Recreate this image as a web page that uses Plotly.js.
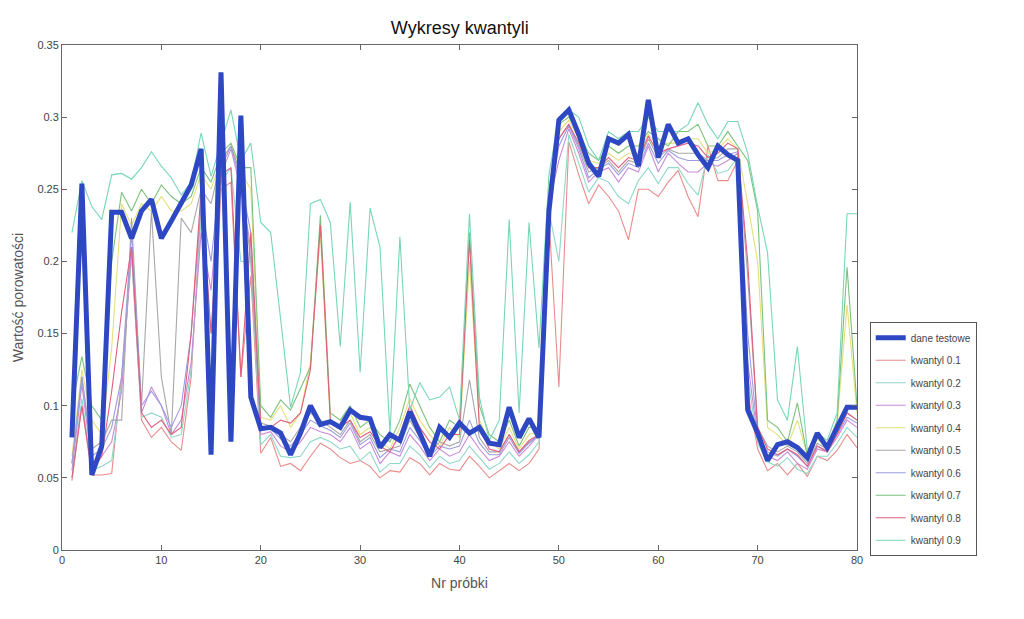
<!DOCTYPE html>
<html>
<head>
<meta charset="utf-8">
<script src="https://cdn.plot.ly/plotly-3.0.1.min.js"></script>
<style>
html,body{margin:0;padding:0;background:#fff;}
#chart{width:1024px;height:619px;}
</style>
</head>
<body>
<div id="chart"></div>
<script>
const sampleNr = Array.from({length: 80}, (_, i) => i + 1);

const daneTestowe = [
0.078,0.254,0.052,0.072,0.234,0.234,0.216,0.235,0.243,0.216,
0.228,0.240,0.253,0.278,0.066,0.331,0.075,0.301,0.106,0.084,
0.085,0.081,0.066,0.081,0.100,0.087,0.089,0.085,0.097,0.092,
0.091,0.071,0.080,0.076,0.096,0.081,0.065,0.085,0.078,0.088,
0.081,0.085,0.074,0.073,0.099,0.078,0.091,0.078,0.235,0.298,
0.305,0.288,0.268,0.259,0.285,0.282,0.288,0.266,0.312,0.272,
0.295,0.282,0.285,0.274,0.265,0.280,0.274,0.270,0.097,0.081,
0.062,0.073,0.075,0.071,0.064,0.081,0.071,0.085,0.099,0.099];

const kw01 = [
0.048,0.100,0.052,0.052,0.053,0.120,0.205,0.090,0.078,0.085,
0.075,0.069,0.120,0.240,0.110,0.250,0.255,0.120,0.190,0.067,
0.078,0.058,0.060,0.055,0.065,0.074,0.070,0.064,0.060,0.062,
0.058,0.050,0.055,0.054,0.064,0.060,0.052,0.060,0.056,0.055,
0.065,0.058,0.050,0.055,0.060,0.055,0.060,0.070,0.230,0.113,
0.283,0.260,0.240,0.253,0.245,0.235,0.215,0.250,0.250,0.245,
0.255,0.263,0.245,0.231,0.280,0.256,0.256,0.270,0.110,0.070,
0.055,0.060,0.052,0.060,0.051,0.065,0.062,0.069,0.080,0.071];

const kw02 = [
0.050,0.105,0.055,0.058,0.062,0.115,0.205,0.092,0.095,0.092,
0.078,0.080,0.125,0.230,0.150,0.255,0.265,0.200,0.200,0.073,
0.080,0.065,0.064,0.065,0.075,0.078,0.075,0.070,0.072,0.062,
0.068,0.054,0.060,0.060,0.072,0.066,0.057,0.065,0.060,0.062,
0.072,0.064,0.056,0.060,0.068,0.060,0.066,0.075,0.235,0.200,
0.288,0.268,0.248,0.258,0.255,0.245,0.240,0.256,0.265,0.254,
0.265,0.265,0.254,0.246,0.274,0.261,0.263,0.272,0.120,0.074,
0.061,0.058,0.064,0.056,0.053,0.065,0.065,0.074,0.085,0.078];

const kw03 = [
0.055,0.115,0.060,0.065,0.075,0.110,0.210,0.095,0.113,0.100,
0.080,0.090,0.130,0.220,0.180,0.260,0.278,0.250,0.210,0.080,
0.082,0.072,0.068,0.075,0.085,0.082,0.080,0.075,0.085,0.070,
0.075,0.060,0.068,0.065,0.080,0.072,0.062,0.070,0.065,0.068,
0.080,0.070,0.062,0.065,0.075,0.065,0.072,0.080,0.240,0.270,
0.292,0.275,0.255,0.262,0.265,0.255,0.265,0.262,0.280,0.262,
0.275,0.268,0.262,0.262,0.268,0.266,0.270,0.275,0.130,0.078,
0.065,0.062,0.068,0.060,0.056,0.070,0.068,0.078,0.090,0.085];

const kw04 = [
0.065,0.125,0.090,0.080,0.140,0.240,0.225,0.240,0.235,0.245,
0.235,0.235,0.240,0.260,0.250,0.270,0.280,0.262,0.250,0.092,
0.090,0.100,0.085,0.095,0.130,0.220,0.090,0.085,0.095,0.080,
0.085,0.075,0.070,0.085,0.105,0.090,0.080,0.072,0.085,0.078,
0.200,0.090,0.075,0.070,0.085,0.070,0.080,0.082,0.245,0.290,
0.298,0.285,0.270,0.268,0.275,0.270,0.275,0.275,0.288,0.280,
0.282,0.282,0.285,0.285,0.275,0.278,0.285,0.278,0.240,0.200,
0.085,0.080,0.072,0.090,0.066,0.077,0.070,0.088,0.170,0.095];

const kw05 = [
0.060,0.120,0.070,0.075,0.090,0.090,0.230,0.100,0.235,0.120,
0.080,0.230,0.220,0.250,0.240,0.270,0.280,0.260,0.200,0.088,
0.086,0.080,0.075,0.085,0.095,0.090,0.085,0.080,0.090,0.075,
0.080,0.068,0.070,0.072,0.090,0.078,0.068,0.075,0.072,0.075,
0.118,0.078,0.068,0.068,0.080,0.068,0.075,0.080,0.240,0.285,
0.295,0.280,0.262,0.265,0.270,0.262,0.270,0.268,0.285,0.272,
0.278,0.275,0.275,0.275,0.270,0.272,0.278,0.278,0.190,0.085,
0.072,0.068,0.072,0.068,0.060,0.074,0.070,0.082,0.095,0.090];

const kw06 = [
0.060,0.120,0.065,0.070,0.085,0.120,0.220,0.100,0.110,0.100,
0.085,0.100,0.150,0.240,0.200,0.265,0.280,0.255,0.220,0.085,
0.084,0.077,0.072,0.080,0.090,0.086,0.083,0.078,0.088,0.073,
0.078,0.064,0.070,0.068,0.085,0.076,0.065,0.072,0.070,0.072,
0.090,0.074,0.066,0.066,0.078,0.067,0.074,0.080,0.240,0.280,
0.294,0.278,0.258,0.264,0.268,0.260,0.268,0.265,0.282,0.268,
0.277,0.272,0.270,0.270,0.270,0.270,0.274,0.276,0.150,0.080,
0.068,0.065,0.070,0.065,0.058,0.072,0.069,0.080,0.092,0.088];

const kw07 = [
0.100,0.134,0.100,0.090,0.200,0.248,0.235,0.250,0.240,0.253,
0.245,0.240,0.245,0.265,0.255,0.275,0.282,0.265,0.265,0.100,
0.092,0.104,0.097,0.112,0.127,0.232,0.095,0.090,0.100,0.085,
0.090,0.080,0.075,0.090,0.115,0.100,0.085,0.075,0.090,0.085,
0.220,0.100,0.080,0.075,0.090,0.072,0.085,0.085,0.250,0.295,
0.300,0.290,0.275,0.270,0.280,0.275,0.280,0.280,0.290,0.285,
0.280,0.290,0.290,0.295,0.280,0.280,0.290,0.280,0.270,0.235,
0.090,0.085,0.075,0.102,0.065,0.080,0.072,0.090,0.196,0.100];

const kw08 = [
0.050,0.100,0.055,0.065,0.110,0.165,0.210,0.095,0.085,0.090,
0.080,0.085,0.150,0.250,0.150,0.260,0.265,0.120,0.220,0.085,
0.085,0.090,0.088,0.095,0.125,0.225,0.090,0.085,0.090,0.078,
0.082,0.072,0.068,0.080,0.100,0.085,0.075,0.070,0.080,0.080,
0.215,0.085,0.070,0.068,0.080,0.068,0.076,0.080,0.235,0.285,
0.295,0.282,0.265,0.265,0.272,0.265,0.272,0.270,0.287,0.275,
0.278,0.280,0.282,0.280,0.272,0.275,0.282,0.278,0.200,0.085,
0.070,0.066,0.070,0.066,0.058,0.072,0.068,0.080,0.095,0.090];

const kw09 = [
0.220,0.256,0.238,0.229,0.260,0.261,0.257,0.265,0.276,0.266,
0.258,0.246,0.255,0.289,0.259,0.282,0.305,0.270,0.282,0.227,
0.220,0.160,0.099,0.123,0.240,0.243,0.227,0.141,0.241,0.123,
0.237,0.210,0.081,0.217,0.097,0.116,0.104,0.106,0.113,0.090,
0.233,0.106,0.076,0.090,0.229,0.095,0.227,0.140,0.260,0.300,
0.305,0.300,0.280,0.270,0.290,0.285,0.290,0.290,0.300,0.290,
0.290,0.290,0.295,0.310,0.295,0.285,0.297,0.297,0.275,0.238,
0.206,0.104,0.090,0.141,0.069,0.081,0.076,0.095,0.233,0.233];

const seriesNames = ['kwantyl 0.1','kwantyl 0.2','kwantyl 0.3','kwantyl 0.4','kwantyl 0.5',
                     'kwantyl 0.6','kwantyl 0.7','kwantyl 0.8','kwantyl 0.9'];
const seriesValues = [kw01,kw02,kw03,kw04,kw05,kw06,kw07,kw08,kw09];
const seriesColors = ['#ea8c8c','#90d8c8','#c98ad8','#e4e07a','#a8a8a8',
                      '#9c9ce0','#7cc27c','#e0607e','#78d6b6'];

const traces = [];
seriesValues.forEach((vals, i) => {
  traces.push({
    x: sampleNr, y: vals, type: 'scatter', mode: 'lines',
    name: seriesNames[i], legendgroup: 'g' + i, legendrank: i + 2,
    line: {color: seriesColors[i], width: 1.1}
  });
});
traces.push({
  x: sampleNr, y: daneTestowe, type: 'scatter', mode: 'lines',
  name: 'dane testowe', legendgroup: 'gd', legendrank: 1,
  line: {color: '#2d48c2', width: 5}
});

const axisFont = {family: 'Liberation Sans, Arial, sans-serif', size: 11, color: '#444'};

const layout = {
  width: 1024, height: 619,
  paper_bgcolor: '#fff', plot_bgcolor: '#fff',
  margin: {l: 62, r: 167, t: 45, b: 69},
  title: {text: 'Wykresy kwantyli', x: 0.449, xanchor: 'center', y: 0.965,
          font: {family: 'Liberation Sans, Arial, sans-serif', size: 18, color: '#111', weight: 500}},
  xaxis: {range: [0, 80], dtick: 10, tick0: 0, showgrid: false, zeroline: false,
          showline: true, mirror: 'ticks', linecolor: '#666', linewidth: 1,
          ticks: 'inside', ticklen: 5, tickcolor: '#666', tickfont: axisFont,
          title: {text: 'Nr próbki', standoff: 12,
                  font: {family: 'Liberation Sans, Arial, sans-serif', size: 14, color: '#555'}}},
  yaxis: {range: [0, 0.35], dtick: 0.05, tick0: 0, showgrid: false, zeroline: false,
          showline: true, mirror: 'ticks', linecolor: '#666', linewidth: 1,
          ticks: 'inside', ticklen: 5, tickcolor: '#666', tickfont: axisFont,
          title: {text: 'Wartość porowatości', standoff: 10,
                  font: {family: 'Liberation Sans, Arial, sans-serif', size: 14, color: '#555'}}},
  legend: {x: 1.016, xanchor: 'left', y: 0.451, yanchor: 'top',
           bgcolor: '#fff', bordercolor: '#555', borderwidth: 1,
           font: {family: 'Liberation Sans Narrow, Liberation Sans, Arial, sans-serif', size: 10, color: '#444'},
           tracegroupgap: 3.5, traceorder: 'grouped'},
  showlegend: true
};

Plotly.newPlot('chart', traces, layout, {displayModeBar: false, staticPlot: true});
</script>
</body>
</html>
